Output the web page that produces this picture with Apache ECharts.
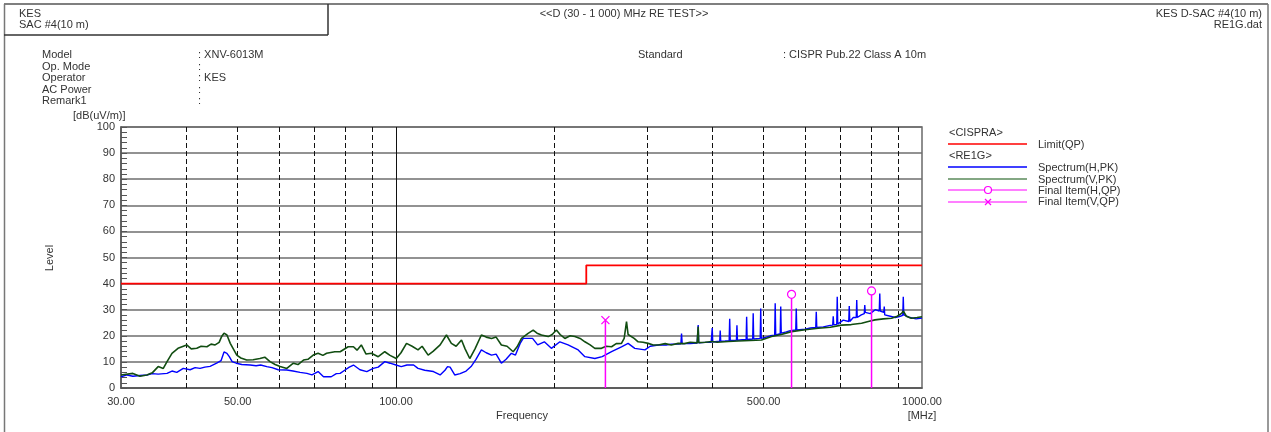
<!DOCTYPE html>
<html>
<head>
<meta charset="utf-8">
<script src="https://cdn.jsdelivr.net/npm/echarts@6/dist/echarts.min.js"></script>
<style>
  html, body { margin: 0; padding: 0; background: #fff; }
  #chart { width: 1271px; height: 432px; }
</style>
</head>
<body>
<div id="chart"></div>
<script>
// limit line CISPR 22 class A, 10 m
var limitFreq = [30, 230, 230, 1000];
var limitLevel = [40, 40, 47, 47];

// Spectrum(H,PK) [MHz, dB(uV/m)]
var hTrace = [
  [30.0,4.3],[30.8,5.0],[31.6,4.5],[32.6,4.8],[33.6,5.0],[34.4,5.5],[35.3,5.3],[36.7,5.6],
  [37.5,6.5],[38.3,6.0],[39.4,7.5],[40.6,7.0],[41.5,7.8],[42.4,7.5],[43.3,8.0],[44.3,8.3],
  [45.6,9.5],[46.5,10.5],[47.1,13.8],[47.7,13.3],[48.2,12.0],[48.8,10.1],[49.7,9.5],[50.9,9.0],
  [52.8,8.8],[54.2,8.5],[55.3,8.8],[56.8,8.2],[58.1,7.8],[59.7,7.0],[62.0,6.9],[63.7,6.5],
  [65.7,6.0],[67.7,5.6],[69.2,5.0],[71.1,6.3],[72.8,4.3],[75.3,4.3],[77.0,5.5],[78.3,5.6],
  [80.0,6.9],[81.5,8.0],[83.0,8.8],[83.5,9.5],[85.4,7.0],[88.0,6.3],[90.5,7.5],[92.5,8.0],
  [95.2,10.1],[97.4,9.5],[100.0,8.8],[102.3,8.2],[104.9,8.8],[108.0,8.8],[110.1,7.5],[113.4,6.8],
  [117.8,6.3],[121.3,5.0],[123.9,6.8],[125.3,8.2],[126.7,8.0],[129.3,5.0],[132.4,5.5],[135.9,6.5],
  [138.9,8.2],[141.9,11.0],[145.3,14.6],[148.4,13.5],[151.9,12.6],[155.0,13.0],[158.6,9.5],[161.9,11.0],
  [165.7,13.3],[168.7,12.6],[172.2,17.1],[174.5,19.0],[181.8,19.0],[185.9,16.5],[191.4,17.7],[197.4,15.2],
  [204.9,17.7],[212.4,16.5],[222.0,14.6],[228.6,12.0],[238.8,11.3],[246.6,12.0],[256.9,13.9],[268.3,15.8],
  [276.2,17.1],[284.4,15.2],[297.3,14.6],[304.3,16.0],[315.1,16.5],[326.3,16.5],[333.6,16.8],[343.9,16.8],
  [348.0,16.9],[349.0,20.9],[350.0,17.0],[362.5,17.0],[373.7,17.2],[374.6,17.2],[375.4,24.1],[376.2,17.3],
  [387.0,17.5],[397.4,17.5],[398.4,17.6],[399.2,23.0],[400.1,17.6],[407.9,17.8],[412.5,17.9],[413.4,22.0],
  [414.3,17.9],[422.4,18.0],[429.9,18.1],[430.9,26.5],[431.9,18.2],[443.8,18.3],[444.8,24.0],[445.8,18.3],
  [455.2,18.5],[463.1,18.6],[464.1,27.3],[465.1,18.6],[476.6,18.8],[477.6,28.6],[478.6,18.8],[492.5,19.0],
  [493.6,30.5],[494.7,19.0],[505.8,19.5],[514.6,20.0],[524.7,20.2],[525.9,32.5],[527.1,20.3],[537.6,20.8],
  [538.8,31.2],[540.0,21.0],[552.1,21.5],[561.7,22.0],[575.4,22.2],[576.7,30.5],[578.0,22.2],[599.7,22.5],
  [613.1,23.0],[628.1,23.2],[629.5,29.2],[630.9,23.2],[649.1,23.4],[669.2,24.0],[676.5,24.1],[678.0,27.5],
  [679.5,24.2],[688.5,24.4],[690.0,35.0],[691.5,24.5],[708.4,26.0],[725.7,25.5],[727.3,31.4],[728.9,25.5],
  [740.2,27.0],[749.9,27.0],[751.5,33.7],[753.1,27.0],[766.5,28.0],[776.7,28.5],[778.4,31.8],[780.1,29.0],
  [797.3,28.5],[814.8,30.0],[829.4,29.5],[831.2,36.2],[833.0,29.5],[846.0,29.0],[847.7,31.2],[849.5,28.0],
  [870.3,27.5],[889.5,27.0],[909.3,27.5],[919.3,27.8],[921.3,35.0],[923.3,28.0],[948.7,27.0],[974.3,26.5],
  [1000,26.8]
];

// Spectrum(V,PK) [MHz, dB(uV/m)]
var vTrace = [
  [30.0,5.0],[31.6,5.6],[32.6,4.5],[33.6,5.0],[34.4,5.8],[35.3,8.2],[36.1,7.5],[36.7,10.1],
  [37.5,13.3],[38.5,15.2],[40.0,16.5],[40.8,15.0],[41.8,15.2],[42.6,16.0],[43.7,15.8],[44.5,16.8],
  [45.3,16.5],[46.1,17.5],[46.6,19.7],[47.1,21.0],[47.7,20.3],[48.4,17.1],[49.8,12.6],[50.7,11.5],
  [52.0,10.7],[53.5,10.8],[55.1,11.3],[56.3,11.8],[57.6,10.1],[58.9,9.0],[60.2,8.2],[62.0,7.5],
  [63.8,9.5],[65.1,9.0],[66.7,10.7],[68.0,11.0],[69.6,12.6],[71.1,13.3],[72.6,12.5],[73.8,13.3],
  [76.5,13.9],[78.3,13.9],[81.1,15.8],[83.0,15.8],[84.3,14.5],[85.9,16.5],[87.7,13.0],[89.8,13.3],
  [92.5,12.0],[95.2,13.9],[97.4,12.5],[100.1,11.3],[102.2,13.5],[104.7,17.1],[107.3,16.0],[110.1,14.6],
  [112.1,16.0],[115.1,12.6],[117.6,14.0],[121.3,16.5],[124.7,20.3],[127.4,17.1],[130.1,16.0],[133.2,18.4],
  [135.3,15.0],[138.1,11.3],[141.3,15.0],[145.3,20.3],[148.4,19.5],[151.9,19.0],[155.0,19.5],[158.6,16.5],
  [162.6,16.0],[167.0,13.9],[169.9,15.8],[173.2,19.0],[178.3,20.9],[182.3,22.2],[185.4,21.0],[189.0,20.3],
  [194.7,19.7],[198.1,20.5],[201.8,22.2],[205.1,20.5],[209.4,19.0],[214.3,20.0],[218.8,19.7],[223.9,19.0],
  [228.6,17.7],[233.9,16.5],[238.8,15.2],[245.8,15.2],[250.9,16.0],[256.9,15.8],[262.2,17.0],[268.3,17.1],
  [271.5,19.0],[274.3,25.4],[276.2,20.5],[278.3,20.3],[283.6,19.0],[288.6,17.7],[295.0,17.5],[301.6,17.1],
  [308.3,16.5],[315.1,16.5],[324.9,17.0],[333.6,16.5],[343.9,17.1],[353.1,17.0],[362.5,17.5],[373.7,17.3],
  [374.6,17.3],[375.4,23.5],[376.2,17.4],[387.0,17.5],[399.2,17.8],[407.9,17.5],[428.1,17.8],[447.2,18.0],
  [471.4,18.2],[495.3,18.4],[517.5,19.7],[540.0,20.5],[564.9,21.6],[599.7,22.3],[635.0,22.9],[669.2,23.3],
  [703.2,24.1],[733.7,24.3],[767.6,24.8],[790.3,25.5],[813.9,26.1],[844.0,26.5],[875.3,26.7],[897.3,27.5],
  [914.5,28.6],[921.3,29.5],[933.6,27.5],[954.1,26.7],[978.6,27.0],[1000,27.3]
];

// Final Item (QP)
var hFinalFreq = [564.9, 801.8];
var hFinalLevel = [35.9, 37.2];
var vFinalFreq = [250.1];
var vFinalLevel = [26.0];

// axis
var xLabelValues = [30, 50, 100, 500, 1000];
var xDashedGrid = [40, 50, 60, 70, 80, 90, 200, 300, 400, 500, 600, 700, 800, 900];
var xSolidGrid = [100];

var FONT = '"Liberation Sans", Arial, sans-serif';
var TXT = '#333';
var MAG = '#ff00ff';
var GREEN = '#114d11';
var BLUE = '#0000ff';
var RED = '#ff0000';

function txt(x, y, s, align, extra) {
  var el = {
    type: 'text', x: x, y: y, silent: true,
    style: { text: s, font: '11px ' + FONT, fill: TXT, textAlign: align || 'left', textVerticalAlign: 'middle', align: align || 'left', verticalAlign: 'middle' }
  };
  if (extra) for (var k in extra) el[k] = extra[k];
  return el;
}
function hline(x1, x2, y, color, w) {
  return { type: 'line', silent: true, shape: { x1: x1, y1: y, x2: x2, y2: y }, style: { stroke: color, lineWidth: w || 1 } };
}
function vline(x, y1, y2, color, w) {
  return { type: 'line', silent: true, shape: { x1: x, y1: y1, x2: x, y2: y2 }, style: { stroke: color, lineWidth: w || 1 } };
}

var chart = echarts.init(document.getElementById('chart'));

var stemSeries = [];
function addStem(f, level) {
  stemSeries.push({ type: 'line', data: [[f, 0], [f, level]], symbol: 'none', silent: true, z: 4,
    color: MAG, itemStyle: { color: MAG }, lineStyle: { color: MAG, width: 1.5, opacity: 1 } });
}
hFinalFreq.forEach(function (f, i) { addStem(f, hFinalLevel[i]); });
vFinalFreq.forEach(function (f, i) { addStem(f, vFinalLevel[i]); });

var xPath = 'path://M0,0L10,10M10,0L0,10';

var option = {
  backgroundColor: '#fff',
  animation: false,
  grid: { left: 121, right: 349, top: 127, bottom: 44, show: true, borderColor: '#6a6a6a', borderWidth: 1.5 },
  xAxis: {
    type: 'log', logBase: 10, min: 30, max: 1000,
    axisLine: { show: true, lineStyle: { color: '#555', width: 1.5 } },
    axisTick: { show: false },
    splitLine: { show: false },
    minorTick: { show: false },
    axisLabel: {
      customValues: xLabelValues,
      formatter: function (v) { return Number(v).toFixed(2); },
      color: TXT, fontFamily: FONT, fontSize: 11, margin: 8
    }
  },
  yAxis: {
    type: 'value', min: 0, max: 100, interval: 10,
    axisLine: { show: true, lineStyle: { color: '#555', width: 1.5 } },
    axisTick: { show: true, inside: true, length: 6, lineStyle: { color: '#555' } },
    minorTick: { show: true, splitNumber: 5, length: 6, lineStyle: { color: '#555' } },
    splitLine: { show: true, lineStyle: { color: '#6e6e6e', width: 1.5 } },
    axisLabel: { color: TXT, fontFamily: FONT, fontSize: 11, margin: 6 }
  },
  series: [
    {
      type: 'line', data: [], silent: true,
      markLine: {
        silent: true, symbol: 'none', z: 1, label: { show: false },
        lineStyle: { color: '#111', type: [5, 3], width: 1 },
        data: xDashedGrid.map(function (v) { return { xAxis: v }; })
      }
    },
    {
      type: 'line', data: [], silent: true,
      markLine: {
        silent: true, symbol: 'none', z: 1, label: { show: false },
        lineStyle: { color: '#111', type: 'solid', width: 1 },
        data: xSolidGrid.map(function (v) { return { xAxis: v }; })
      }
    },
    {
      name: 'Limit(QP)', type: 'line', symbol: 'none', silent: true, z: 3,
      data: limitFreq.map(function (f, i) { return [f, limitLevel[i]]; }),
      color: RED, lineStyle: { color: RED, width: 1.8, opacity: 1 }
    },
    {
      name: 'Spectrum(H,PK)', type: 'line', symbol: 'none', silent: true, z: 2,
      data: hTrace, lineStyle: { color: BLUE, width: 1.4 }
    },
    {
      name: 'Spectrum(V,PK)', type: 'line', symbol: 'none', silent: true, z: 3,
      data: vTrace, lineStyle: { color: GREEN, width: 1.6 }
    }
  ].concat(stemSeries).concat([
    {
      name: 'Final Item(H,QP)', type: 'scatter', symbol: 'circle', symbolSize: 8, silent: true, z: 6,
      data: hFinalFreq.map(function (f, i) { return [f, hFinalLevel[i]]; }),
      itemStyle: { color: '#fff', borderColor: MAG, borderWidth: 1.2, opacity: 1 }
    },
    {
      name: 'Final Item(V,QP)', type: 'scatter', symbol: xPath, symbolSize: 8, silent: true, z: 6,
      data: vFinalFreq.map(function (f, i) { return [f, vFinalLevel[i]]; }),
      itemStyle: { color: 'none', borderColor: MAG, borderWidth: 1.3, opacity: 1 }
    }
  ]),
  graphic: [
    // page frame
    hline(4, 1268, 4, '#555', 1.5),
    vline(4.5, 4, 432, '#777', 1.5),
    vline(1268, 4, 432, '#777', 1.5),
    hline(4, 328, 35, '#333', 1.5),
    vline(328, 4, 35, '#333', 1.5),
    // header
    txt(19, 14, 'KES'),
    txt(19, 25, 'SAC #4(10 m)'),
    txt(624, 14, '<<D (30 - 1 000) MHz RE TEST>>', 'center'),
    txt(1262, 14, 'KES D-SAC #4(10 m)', 'right'),
    txt(1262, 25, 'RE1G.dat', 'right'),
    // info block
    txt(42, 55, 'Model'), txt(198, 55, ': XNV-6013M'),
    txt(42, 67, 'Op. Mode'), txt(198, 67, ':'),
    txt(42, 78, 'Operator'), txt(198, 78, ': KES'),
    txt(42, 90, 'AC Power'), txt(198, 90, ':'),
    txt(42, 101, 'Remark1'), txt(198, 101, ':'),
    txt(638, 55, 'Standard'), txt(783, 55, ': CISPR Pub.22 Class A 10m'),
    // axis names
    txt(73, 116, '[dB(uV/m)]'),
    txt(50, 258, 'Level', 'center', { rotation: Math.PI / 2 }),
    txt(522, 416, 'Frequency', 'center'),
    txt(922, 416, '[MHz]', 'center'),
    // legend
    txt(949, 133, '<CISPRA>'),
    hline(948, 1027, 144, RED, 1.3), txt(1038, 145, 'Limit(QP)'),
    txt(949, 156, '<RE1G>'),
    hline(948, 1027, 167, BLUE, 1.3), txt(1038, 168, 'Spectrum(H,PK)'),
    hline(948, 1027, 179, '#5a8a5a', 1.5), txt(1038, 180, 'Spectrum(V,PK)'),
    hline(948, 1027, 190, MAG, 1.2), txt(1038, 191, 'Final Item(H,QP)'),
    { type: 'circle', silent: true, shape: { cx: 988, cy: 190, r: 3.5 }, style: { fill: '#fff', stroke: MAG, lineWidth: 1.2 } },
    hline(948, 1027, 202, MAG, 1.2), txt(1038, 202, 'Final Item(V,QP)'),
    { type: 'line', silent: true, shape: { x1: 985, y1: 199, x2: 991, y2: 205 }, style: { stroke: MAG, lineWidth: 1.2 } },
    { type: 'line', silent: true, shape: { x1: 991, y1: 199, x2: 985, y2: 205 }, style: { stroke: MAG, lineWidth: 1.2 } }
  ]
};

chart.setOption(option);
</script>
</body>
</html>
